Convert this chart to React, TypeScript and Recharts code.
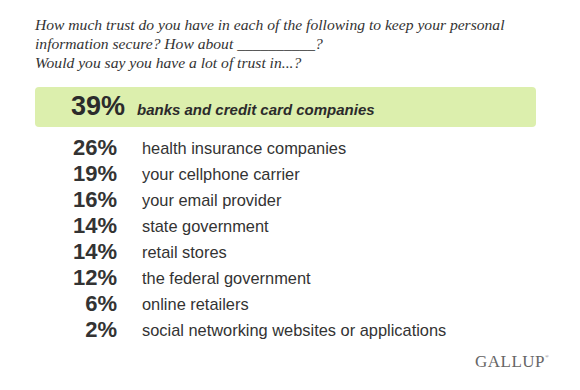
import React from "react";
import { BarChart, Bar, XAxis, YAxis, ReferenceArea } from "recharts";

const questionLines = [
  "How much trust do you have in each of the following to keep your personal",
  "information secure? How about __________?",
  "Would you say you have a lot of trust in...?",
];
const categories = [
  "banks and credit card companies",
  "health insurance companies",
  "your cellphone carrier",
  "your email provider",
  "state government",
  "retail stores",
  "the federal government",
  "online retailers",
  "social networking websites or applications",
];
const values = [39, 26, 19, 16, 14, 14, 12, 6, 2];
const highlighted = categories[0];

const data = categories.map((name, i) => ({ name, value: values[i] }));

const SANS = "'Liberation Sans', Arial, Helvetica, sans-serif";
const SERIF = "'Liberation Serif', 'Times New Roman', serif";

const RowTick = (props: any) => {
  const { y, payload, index } = props;
  const idx = typeof index === "number" ? index : categories.indexOf(payload.value);
  const v = values[idx];
  const hi = payload.value === highlighted;
  if (hi) {
    return (
      <g>
        <text x={125} y={y - 7} textAnchor="end" fontFamily={SANS} fontWeight="bold" fontSize={27} fill="#2b2b2b">
          {v}%
        </text>
        <text x={137} y={y - 7} textAnchor="start" fontFamily={SANS} fontWeight="bold" fontStyle="italic" fontSize={15} fill="#2b2b2b">
          {payload.value}
        </text>
      </g>
    );
  }
  return (
    <g>
      <text x={117} y={y + 7} textAnchor="end" fontFamily={SANS} fontWeight="bold" fontSize={22} fill="#333">
        {v}%
      </text>
      <text x={142} y={y + 6} textAnchor="start" fontFamily={SANS} fontSize={16.4} fill="#333">
        {payload.value}
      </text>
    </g>
  );
};

const HighlightBox = (props: any) => {
  const { x, y, width } = props;
  return <rect x={x} y={y - 22} width={width} height={40} rx={4} ry={4} fill="#dcefad" />;
};

export default function App() {
  return (
    <div style={{ position: "absolute", left: 0, top: 0, width: 580, height: 390, background: "#fff" }}>
      <div
        style={{
          position: "absolute",
          left: 35,
          top: 15,
          fontFamily: SERIF,
          fontStyle: "italic",
          fontSize: 15.6,
          lineHeight: "19px",
          color: "#333",
          whiteSpace: "nowrap",
        }}
      >
        {questionLines.map((l, i) => (
          <div key={i}>{l}</div>
        ))}
      </div>
      <BarChart
        width={580}
        height={390}
        data={data}
        layout="vertical"
        margin={{ top: 109, right: 44, bottom: 47, left: 34 }}
        barCategoryGap={0}
      >
        <XAxis type="number" domain={[0, 100]} hide />
        <YAxis
          type="category"
          dataKey="name"
          width={1}
          axisLine={false}
          tickLine={false}
          interval={0}
          tick={<RowTick />}
        />
        <ReferenceArea
          y1={highlighted}
          y2={highlighted}
          ifOverflow="visible"
          shape={<HighlightBox />}
        />
        <Bar dataKey="value" fill="transparent" isAnimationActive={false} />
      </BarChart>
      <div
        style={{
          position: "absolute",
          left: 475,
          top: 352,
          fontFamily: SERIF,
          fontSize: 17,
          color: "#666",
          letterSpacing: 0.5,
        }}
      >
        GALLUP<sup style={{ fontSize: 5, verticalAlign: "top", position: "relative", top: 2 }}>®</sup>
      </div>
    </div>
  );
}
